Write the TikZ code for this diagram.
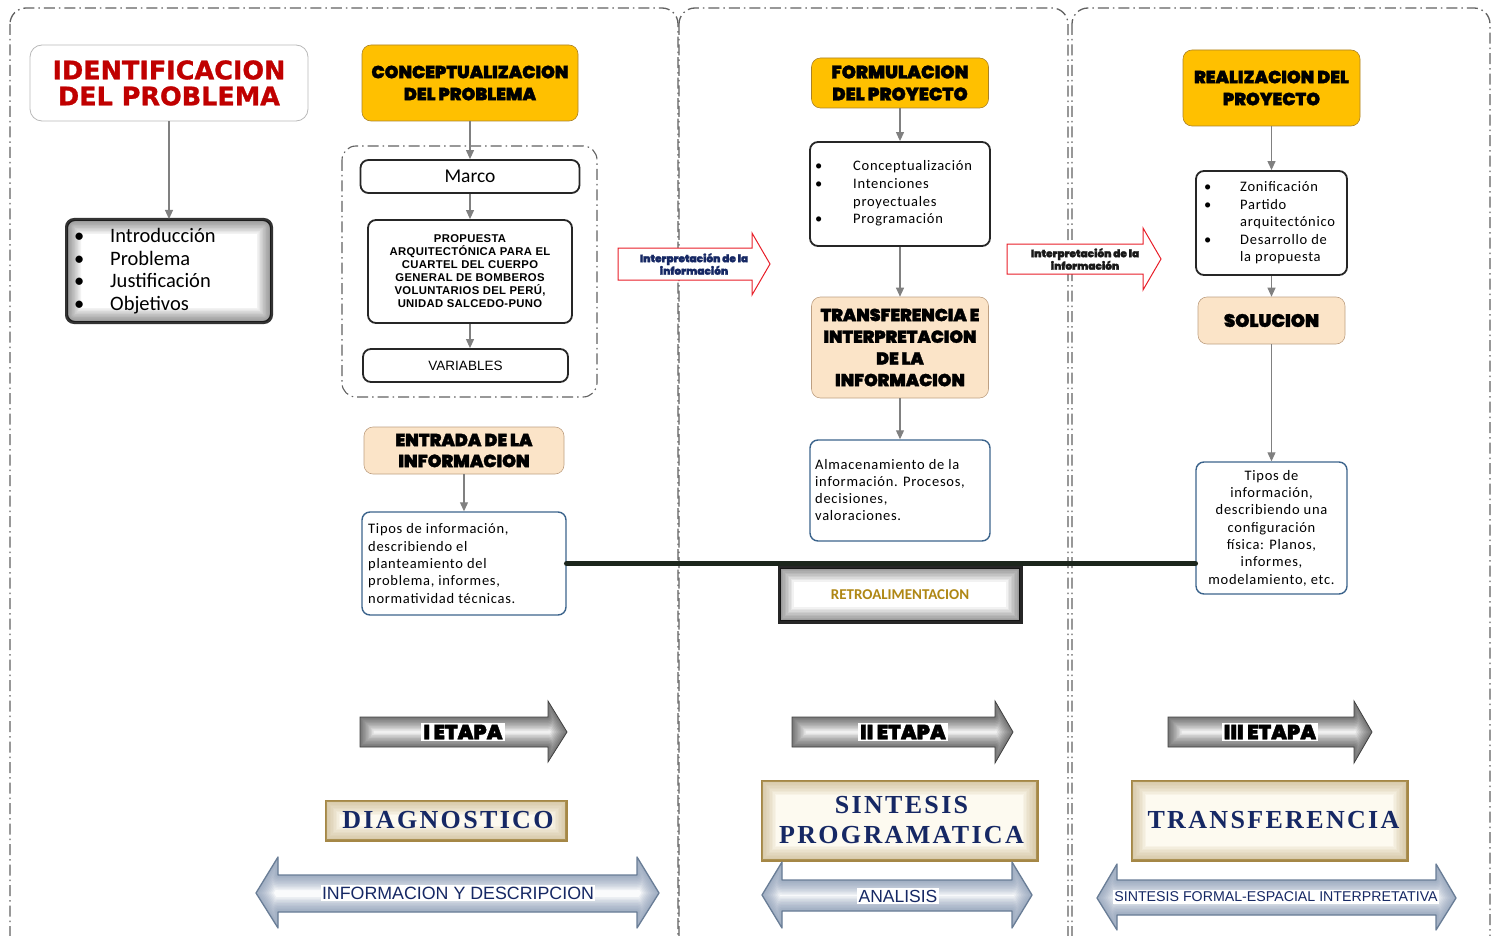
\documentclass[tikz,border=0pt]{standalone}
\usepackage{fontspec}
\setmainfont{Carlito}
\newfontfamily\heavyfont{Poppins}[UprightFont={* Black}, FakeBold=1.6]
\newfontfamily\redfont{DejaVu Sans}[BoldFeatures={FakeBold=1.2}]
\newfontfamily\arialfont{Liberation Sans}
\newfontfamily\serifspaced{Liberation Serif}[LetterSpace=9]
\newfontfamily\bodyfont{Carlito}[LetterSpace=5]
\newfontfamily\propfont{Liberation Sans}[LetterSpace=3]
\usetikzlibrary{arrows.meta,calc}

\definecolor{yellowbox}{RGB}{255,192,0}
\definecolor{yborder}{RGB}{170,130,40}
\definecolor{peach}{RGB}{251,228,200}
\definecolor{pborder}{RGB}{190,160,130}
\definecolor{bluebrd}{RGB}{60,100,140}
\definecolor{navy}{RGB}{22,40,100}
\definecolor{titlered}{RGB}{192,0,0}
\definecolor{arrowgray}{RGB}{128,128,128}
\definecolor{gold}{RGB}{175,135,20}
\definecolor{tanbrd}{RGB}{165,135,70}
\definecolor{tanglow}{RGB}{185,160,105}
\definecolor{cream}{RGB}{253,250,240}
\definecolor{steel}{RGB}{105,125,150}
\definecolor{steelglow}{RGB}{120,140,170}
\definecolor{feedback}{RGB}{28,38,28}
\definecolor{redarrow}{RGB}{232,30,40}

% soft inner shadow along the border of a named node
\newcommand\glowbox[4]{%
  \begin{scope}
    \clip[rounded corners=#4] (#1.north west) rectangle (#1.south east);
    \foreach \w in {3,6,...,30}
      \draw[#2, opacity=#3, line width=\w pt, rounded corners=#4]
        (#1.north west) rectangle (#1.south east);
  \end{scope}}
% the same soft inner shadow inside an arbitrary closed outline
\newcommand\glowpath[4]{%
  \begin{scope}
    \clip #1;
    \foreach \w in {3,6,...,#4}
      \draw[#2, opacity=#3, line width=\w pt, line join=round] #1;
  \end{scope}}
\newcommand\blt[1]{\makebox[#1][l]{\textbullet}}

\begin{document}
\begin{tikzpicture}[x=1pt,y=-1pt,
  conn/.style={draw=arrowgray, line width=1.1pt, -{Triangle[length=9pt,width=8pt]}},
  ybox/.style={draw=yborder, fill=yellowbox, rounded corners=9pt, line width=0.6pt, inner sep=0pt, align=center},
  pbox/.style={draw=pborder, fill=peach, rounded corners=9pt, line width=0.6pt, inner sep=0pt, align=center},
  wbox/.style={draw=black!85, line width=1.8pt, fill=white, rounded corners=8pt, inner sep=0pt, align=center},
  bbox/.style={draw=bluebrd, line width=1.4pt, fill=white, rounded corners=8pt, inner sep=0pt},
  panel/.style={draw=black!62, line width=1.3pt, dash pattern=on 11pt off 4pt on 1.5pt off 4pt, rounded corners=16pt},
  heavytitle/.style 2 args={font=\heavyfont\fontsize{#1}{#2}\selectfont},
  etapalabel/.style={fill=white, inner sep=2pt, font=\heavyfont\fontsize{20.5}{22}\selectfont},
  dbllabel/.style={fill=white, inner sep=1.5pt, text=navy},
  redarrowshape/.style={draw=redarrow, fill=white, line width=1pt},
  stage/.style={draw=tanbrd, line width=1.5pt, fill=cream, inner sep=0pt},
  stagetext/.style={font=\serifspaced\bfseries\fontsize{26}{30}\selectfont, text=navy, align=center}
]
\useasboundingbox (0,0) rectangle (1499,936);

% three stage panels
\begin{scope}
  \clip (0,0) rectangle (1499,936);
  \draw[panel] (10,8) rectangle (678,990);
  \draw[panel] (679,8) rectangle (1068,990);
  \draw[panel] (1072,8) rectangle (1490,990);
\end{scope}

% ---------------- stage I ----------------
\node[fill=white, draw=gray!55, line width=0.8pt, rounded corners=12pt, minimum width=278, minimum height=76,
      align=center, font=\redfont\bfseries\fontsize{25.5}{26}\selectfont, text=titlered] (idn) at (169,83)
      {IDENTIFICACION\\DEL PROBLEMA};

\node[draw=gray!40!black, line width=2pt, fill=white, rounded corners=8pt, minimum width=204, minimum height=102] (bul1) at (169,271) {};
\glowbox{bul1}{black}{0.05}{8pt}
\draw[gray!40!black, line width=2pt, rounded corners=8pt] (bul1.north west) rectangle (bul1.south east);
\node[anchor=west, align=left, inner sep=0pt, font=\fontsize{20.5}{22.5}\selectfont] (bul1t) at (74,271)
  {\blt{36pt}Introducción\\\blt{36pt}Problema\\\blt{36pt}Justificación\\\blt{36pt}Objetivos};
\draw[conn] (idn) -- (bul1);

\node[ybox, minimum width=216, minimum height=76, heavytitle={17.5}{22}] (conc) at (470,83)
  {CONCEPTUALIZACION\\DEL PROBLEMA};
\draw[panel, line width=1.1pt, rounded corners=14pt] (342,146) rectangle (597,397);
\node[wbox, minimum width=219, minimum height=33, font=\fontsize{19.5}{20}\selectfont] (marco) at (470,176.5) {Marco};
\node[wbox, minimum width=204, minimum height=103, font=\propfont\bfseries\fontsize{11.3}{13}\selectfont] (prop) at (470,271.5)
  {PROPUESTA\\ARQUITECTÓNICA PARA EL\\CUARTEL DEL CUERPO\\GENERAL DE BOMBEROS\\VOLUNTARIOS DEL PERÚ,\\UNIDAD SALCEDO-PUNO};
\node[wbox, minimum width=205, minimum height=33, font=\arialfont\fontsize{13.5}{15}\selectfont] (vars) at (465.5,365.5) {VARIABLES};
\draw[conn] (conc) -- (marco);
\draw[conn] (marco) -- (prop);
\draw[conn] (prop.south) -- (prop.south |- vars.north);

\node[pbox, minimum width=200, minimum height=47, heavytitle={17.5}{21}] (entr) at (464,450.5)
  {ENTRADA DE LA\\INFORMACION};
\node[bbox, minimum width=204, minimum height=103] (tip1) at (464,563.5) {};
\node[anchor=west, align=left, inner sep=0pt, font=\bodyfont\fontsize{14.5}{17.3}\selectfont] (tip1t) at (368,563.5)
  {Tipos de información,\\describiendo el\\planteamiento del\\problema, informes,\\normatividad técnicas.};
\draw[conn] (entr) -- (tip1);

% ---------------- stage II ----------------
\node[ybox, minimum width=177, minimum height=50, heavytitle={18}{22}] (form) at (900,83)
  {FORMULACION\\DEL PROYECTO};
\node[wbox, minimum width=180, minimum height=104] (bul2) at (900,194) {};
\node[anchor=west, align=left, inner sep=0pt, font=\bodyfont\fontsize{14.5}{17.6}\selectfont] (bul2t) at (815,193.5)
  {\blt{38pt}Conceptualización\\\blt{38pt}Intenciones\\\hspace*{38pt}proyectuales\\\blt{38pt}Programación};
\node[pbox, minimum width=177, minimum height=101, heavytitle={17.3}{21.7}] (trans) at (900,347.5)
  {TRANSFERENCIA E\\INTERPRETACION\\DE LA\\INFORMACION};
\node[bbox, minimum width=180, minimum height=101] (alm) at (900,490.5) {};
\node[anchor=west, align=left, inner sep=0pt, font=\bodyfont\fontsize{14.5}{17}\selectfont] (almt) at (815,490.5)
  {Almacenamiento de la\\información. Procesos,\\decisiones,\\valoraciones.};
\draw[conn] (form) -- (bul2);
\draw[conn] (bul2) -- (trans);
\draw[conn] (trans) -- (alm);

\node[draw=black!85, line width=2.5pt, fill=white, minimum width=240, minimum height=53] (retro) at (900,594.5) {};
\glowbox{retro}{black}{0.05}{0pt}
\draw[black!85, line width=2.5pt] (retro.north west) rectangle (retro.south east);
\node[font=\bfseries\fontsize{15}{16}\selectfont, text=gold] (retrot) at (retro) {RETROALIMENTACION};

% ---------------- stage III ----------------
\node[ybox, minimum width=177, minimum height=76, heavytitle={17.5}{22}] (real) at (1271.5,88)
  {REALIZACION DEL\\PROYECTO};
\node[wbox, minimum width=151, minimum height=104] (bul3) at (1271.5,223) {};
\node[anchor=west, align=left, inner sep=0pt, font=\bodyfont\fontsize{14.5}{17.5}\selectfont] (bul3t) at (1204,223)
  {\blt{36pt}Zonificación\\\blt{36pt}Partido\\\hspace*{36pt}arquitectónico\\\blt{36pt}Desarrollo de\\\hspace*{36pt}la propuesta};
\node[pbox, minimum width=147, minimum height=47, heavytitle={18}{18}] (sol) at (1271.5,320.5) {SOLUCION};
\node[bbox, minimum width=151, minimum height=132, align=center, font=\bodyfont\fontsize{14.5}{17.3}\selectfont] (tip3) at (1271.5,528)
  {Tipos de\\información,\\describiendo una\\configuración\\física: Planos,\\informes,\\modelamiento, etc.};
\draw[conn] (real) -- (bul3);
\draw[conn] (bul3) -- (sol);
\draw[conn] (sol) -- (tip3);

% feedback line joining the two information boxes
\draw[feedback, line width=5.5pt, line cap=round] (tip1.east) -- (tip1.east -| tip3.west);

% transitions between stages
\path[redarrowshape] (618,248) -- (752,248) -- (752,233) -- (770,264) -- (752,295) -- (752,280) -- (618,280) -- cycle;
\node[align=center, text=navy, font=\heavyfont\fontsize{10.5}{12.5}\selectfont] (int1) at (694,264)
  {Interpretación de la\\información};
\path[redarrowshape] (1007,244) -- (1143,244) -- (1143,228) -- (1161,259) -- (1143,290) -- (1143,274) -- (1007,274) -- cycle;
\node[align=center, text=black!90, font=\heavyfont\fontsize{10.5}{12.5}\selectfont] (int2) at (1085,259)
  {Interpretación de la\\información};

% stage arrows
\fill[white!94!black] (360,717) -- (548,717) -- (548,701) -- (567,732) -- (548,762) -- (548,747) -- (360,747) -- cycle;
\glowpath{(360,717) -- (548,717) -- (548,701) -- (567,732) -- (548,762) -- (548,747) -- (360,747) -- cycle}{black}{0.07}{27}
\draw[gray!50!black, line width=0.8pt] (360,717) -- (548,717) -- (548,701) -- (567,732) -- (548,762) -- (548,747) -- (360,747) -- cycle;
\node[etapalabel] (et1) at (463,732) {I ETAPA};

\fill[white!94!black] (792,717) -- (995,717) -- (995,701) -- (1013,732) -- (995,763) -- (995,747) -- (792,747) -- cycle;
\glowpath{(792,717) -- (995,717) -- (995,701) -- (1013,732) -- (995,763) -- (995,747) -- (792,747) -- cycle}{black}{0.07}{27}
\draw[gray!50!black, line width=0.8pt] (792,717) -- (995,717) -- (995,701) -- (1013,732) -- (995,763) -- (995,747) -- (792,747) -- cycle;
\node[etapalabel] (et2) at (903,732) {II ETAPA};

\fill[white!94!black] (1168,717) -- (1354,717) -- (1354,701) -- (1372,732) -- (1354,763) -- (1354,747) -- (1168,747) -- cycle;
\glowpath{(1168,717) -- (1354,717) -- (1354,701) -- (1372,732) -- (1354,763) -- (1354,747) -- (1168,747) -- cycle}{black}{0.07}{27}
\draw[gray!50!black, line width=0.8pt] (1168,717) -- (1354,717) -- (1354,701) -- (1372,732) -- (1354,763) -- (1354,747) -- (1168,747) -- cycle;
\node[etapalabel] (et3) at (1270,732) {III ETAPA};

% stage names
\node[stage, minimum width=240, minimum height=39] (diag) at (446,820.5) {};
\glowbox{diag}{tanglow}{0.07}{0pt}
\draw[tanbrd, line width=1.5pt] (diag.north west) rectangle (diag.south east);
\node[stagetext] (diagt) at (448,820.5) {DIAGNOSTICO};

\node[stage, minimum width=275, minimum height=79] (sint) at (899.5,820.5) {};
\glowbox{sint}{tanglow}{0.07}{0pt}
\draw[tanbrd, line width=1.5pt] (sint.north west) rectangle (sint.south east);
\node[stagetext] (sintt) at (901.5,820.5) {SINTESIS\\PROGRAMATICA};

\node[stage, minimum width=275, minimum height=79] (trf) at (1269.5,820.5) {};
\glowbox{trf}{tanglow}{0.07}{0pt}
\draw[tanbrd, line width=1.5pt] (trf.north west) rectangle (trf.south east);
\node[stagetext] (trft) at (1273.5,820.5) {TRANSFERENCIA};

% double arrows with the activity of each stage
\fill[white!97!steel] (256,893) -- (278,857) -- (278,875) -- (637,875) -- (637,857) -- (659,893) -- (637,928) -- (637,912) -- (278,912) -- (278,928) -- cycle;
\glowpath{(256,893) -- (278,857) -- (278,875) -- (637,875) -- (637,857) -- (659,893) -- (637,928) -- (637,912) -- (278,912) -- (278,928) -- cycle}{steelglow}{0.1}{30}
\draw[steel, line width=1.3pt, line join=round] (256,893) -- (278,857) -- (278,875) -- (637,875) -- (637,857) -- (659,893) -- (637,928) -- (637,912) -- (278,912) -- (278,928) -- cycle;
\node[dbllabel, font=\arialfont\fontsize{17.8}{19}\selectfont] (act1) at (458,893) {INFORMACION Y DESCRIPCION};

\fill[white!97!steel] (762,895) -- (782,862) -- (782,880) -- (1012,880) -- (1012,862) -- (1032,895) -- (1012,928) -- (1012,911) -- (782,911) -- (782,928) -- cycle;
\glowpath{(762,895) -- (782,862) -- (782,880) -- (1012,880) -- (1012,862) -- (1032,895) -- (1012,928) -- (1012,911) -- (782,911) -- (782,928) -- cycle}{steelglow}{0.1}{30}
\draw[steel, line width=1.3pt, line join=round] (762,895) -- (782,862) -- (782,880) -- (1012,880) -- (1012,862) -- (1032,895) -- (1012,928) -- (1012,911) -- (782,911) -- (782,928) -- cycle;
\node[dbllabel, font=\arialfont\fontsize{17.5}{19}\selectfont] (act2) at (898,896) {ANALISIS};

\fill[white!97!steel] (1097,898) -- (1117,864) -- (1117,880) -- (1436,880) -- (1436,864) -- (1456,898) -- (1436,930) -- (1436,915) -- (1117,915) -- (1117,930) -- cycle;
\glowpath{(1097,898) -- (1117,864) -- (1117,880) -- (1436,880) -- (1436,864) -- (1456,898) -- (1436,930) -- (1436,915) -- (1117,915) -- (1117,930) -- cycle}{steelglow}{0.1}{30}
\draw[steel, line width=1.3pt, line join=round] (1097,898) -- (1117,864) -- (1117,880) -- (1436,880) -- (1436,864) -- (1456,898) -- (1436,930) -- (1436,915) -- (1117,915) -- (1117,930) -- cycle;
\node[dbllabel, font=\arialfont\fontsize{14.2}{15}\selectfont] (act3) at (1276,897) {SINTESIS FORMAL-ESPACIAL INTERPRETATIVA};

\end{tikzpicture}
\end{document}
